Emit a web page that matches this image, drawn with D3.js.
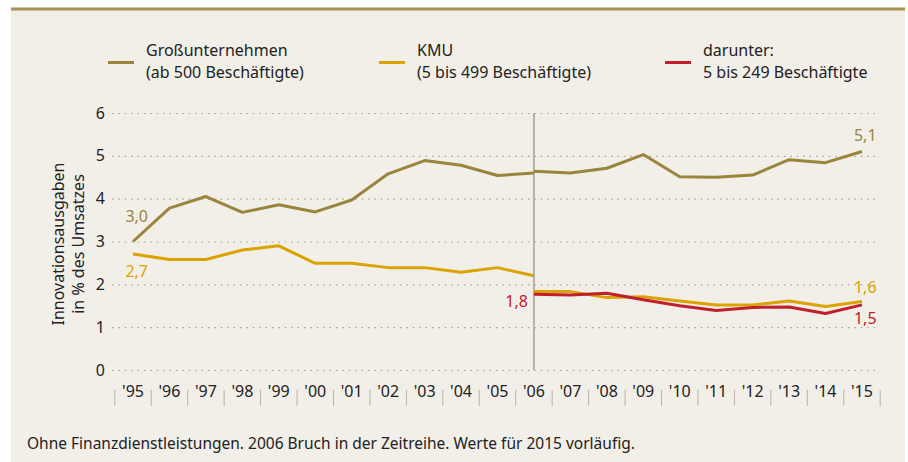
<!DOCTYPE html>
<html>
<head>
<meta charset="utf-8">
<script src="https://cdn.jsdelivr.net/npm/d3@7"></script>
<style>
  body { margin: 0; background: #fff; }
  svg { display: block; font-family: "Noto Sans", sans-serif; }
</style>
</head>
<body>
<div id="chart"></div>
<script>
// years on the x axis
var years = ["'95","'96","'97","'98","'99","'00","'01","'02","'03","'04","'05",
             "'06","'07","'08","'09","'10","'11","'12","'13","'14","'15"];

// Großunternehmen, old series 1995-2006 and new series 2006-2015
var grossOld = [3.0, 3.78, 4.05, 3.68, 3.86, 3.69, 3.97, 4.58, 4.89, 4.78, 4.54, 4.60];
var grossNew = [4.64, 4.60, 4.71, 5.03, 4.51, 4.50, 4.55, 4.91, 4.84, 5.10];

// KMU, old and new series
var kmuOld = [2.71, 2.58, 2.58, 2.80, 2.90, 2.49, 2.49, 2.39, 2.39, 2.28, 2.39, 2.20];
var kmuNew = [1.83, 1.83, 1.69, 1.71, 1.61, 1.52, 1.52, 1.61, 1.48, 1.60];

// darunter 5 bis 249 Beschäftigte, 2006-2015
var small = [1.77, 1.75, 1.79, 1.64, 1.50, 1.39, 1.46, 1.47, 1.32, 1.52];

var yTicks = [0, 1, 2, 3, 4, 5, 6];

var colGross = "#9a843e",
    colKmu = "#dba300",
    colSmall = "#c0202b";

var W = 908, H = 462;

var svg = d3.select("#chart").append("svg")
    .attr("width", W)
    .attr("height", H);

// panel background + top rule
svg.append("rect").attr("x", 11).attr("y", 8).attr("width", 894).attr("height", H - 8)
    .attr("fill", "#f2efe9");
svg.append("rect").attr("x", 11).attr("y", 7.5).attr("width", 894).attr("height", 3)
    .attr("fill", "#a8924f");

// scales
var xBand = d3.scaleBand().domain(years).range([114.8, 880.2]).padding(0);
var x = function(yr) { return xBand(yr) + xBand.bandwidth() / 2; };
var y = d3.scaleLinear().domain([0, 6]).range([370, 113]);

// y axis with dotted grid
var yAxis = svg.append("g")
    .attr("transform", "translate(112,0)")
    .call(d3.axisLeft(y).tickValues(yTicks).tickFormat(d3.format("d"))
      .tickSize(-768).tickPadding(7));
yAxis.select(".domain").remove();
yAxis.selectAll(".tick line")
    .attr("stroke", "#a5a29c")
    .attr("stroke-width", 1.2)
    .attr("stroke-dasharray", "1.5,4.9");
yAxis.selectAll(".tick text")
    .attr("font-size", 16)
    .attr("font-family", "Noto Sans, sans-serif")
    .attr("fill", "#222");

// y axis title (two lines)
svg.append("g").selectAll("text")
    .data([["Innovationsausgaben", 64], ["in % des Umsatzes", 84]])
    .join("text")
    .attr("transform", function(d) { return "translate(" + d[1] + ",244) rotate(-90)"; })
    .attr("text-anchor", "middle")
    .attr("font-size", 16)
    .attr("fill", "#222")
    .text(function(d) { return d[0]; });

// x axis
var xAxis = svg.append("g")
    .attr("transform", "translate(0,384)")
    .call(d3.axisBottom(xBand).tickSize(0).tickPadding(2));
xAxis.select(".domain").remove();
xAxis.selectAll(".tick text")
    .attr("font-size", 16)
    .attr("font-family", "Noto Sans, sans-serif")
    .attr("fill", "#222");

// separators between year labels
var edges = years.map(function(d) { return xBand(d); });
edges.push(xBand(years[years.length - 1]) + xBand.bandwidth());
svg.append("g").selectAll("line")
    .data(edges)
    .join("line")
    .attr("x1", function(d) { return d; })
    .attr("x2", function(d) { return d; })
    .attr("y1", 390)
    .attr("y2", 406)
    .attr("stroke", "#b5b2ac")
    .attr("stroke-width", 1);

// break line 2006
svg.append("line")
    .attr("x1", x("'06")).attr("x2", x("'06"))
    .attr("y1", y(6)).attr("y2", y(0))
    .attr("stroke", "#b3b1ab")
    .attr("stroke-width", 2);

// lines
var line = d3.line()
    .x(function(d) { return x(d[0]); })
    .y(function(d) { return y(d[1]); });

function pairs(vals, startIdx) {
  return vals.map(function(v, i) { return [years[startIdx + i], v]; });
}

var series = [
  { data: pairs(grossOld, 0), color: colGross },
  { data: pairs(kmuOld, 0), color: colKmu },
  { data: pairs(grossNew, 11), color: colGross },
  { data: pairs(kmuNew, 11), color: colKmu },
  { data: pairs(small, 11), color: colSmall }
];

svg.append("g").selectAll("path")
    .data(series)
    .join("path")
    .attr("d", function(d) { return line(d.data); })
    .attr("fill", "none")
    .attr("stroke", function(d) { return d.color; })
    .attr("stroke-width", 3)
    .attr("stroke-linejoin", "round");

// value labels
var fmt = function(v) { return d3.format(".1f")(v).replace(".", ","); };
var labels = [
  { v: grossOld[0], x: x("'95") + 15, y: 221.5, anchor: "end", color: colGross },
  { v: kmuOld[0], x: x("'95") + 15, y: 276.5, anchor: "end", color: colKmu },
  { v: small[0], x: x("'06") - 6, y: 307, anchor: "end", color: colSmall },
  { v: grossNew[9], x: x("'15") - 8, y: 141, anchor: "start", color: colGross },
  { v: kmuNew[9], x: x("'15") - 8, y: 292.5, anchor: "start", color: colKmu },
  { v: small[9], x: x("'15") - 8, y: 324, anchor: "start", color: colSmall }
];
svg.append("g").selectAll("text")
    .data(labels)
    .join("text")
    .attr("x", function(d) { return d.x; })
    .attr("y", function(d) { return d.y; })
    .attr("text-anchor", function(d) { return d.anchor; })
    .attr("font-size", 16)
    .attr("fill", function(d) { return d.color; })
    .text(function(d) { return fmt(d.v); });

// legend
var legend = [
  { lines: ["Großunternehmen", "(ab 500 Beschäftigte)"], color: colGross, x: 108 },
  { lines: ["KMU", "(5 bis 499 Beschäftigte)"], color: colKmu, x: 379 },
  { lines: ["darunter:", "5 bis 249 Beschäftigte"], color: colSmall, x: 665 }
];
var lg = svg.append("g").selectAll("g")
    .data(legend)
    .join("g")
    .attr("transform", function(d) { return "translate(" + d.x + ",0)"; });
lg.append("line")
    .attr("x1", 0).attr("x2", 26)
    .attr("y1", 62.5).attr("y2", 62.5)
    .attr("stroke", function(d) { return d.color; })
    .attr("stroke-width", 3);
lg.append("text")
    .attr("x", 38).attr("y", 56)
    .attr("font-size", 16)
    .attr("fill", "#222")
    .text(function(d) { return d.lines[0]; });
lg.append("text")
    .attr("x", 38).attr("y", 77.5)
    .attr("font-size", 16)
    .attr("fill", "#222")
    .text(function(d) { return d.lines[1]; });

// footnote
svg.append("text")
    .attr("x", 27)
    .attr("y", 449)
    .attr("font-size", 15.5)
    .attr("fill", "#222")
    .text("Ohne Finanzdienstleistungen. 2006 Bruch in der Zeitreihe. Werte für 2015 vorläufig.");
</script>
</body>
</html>
